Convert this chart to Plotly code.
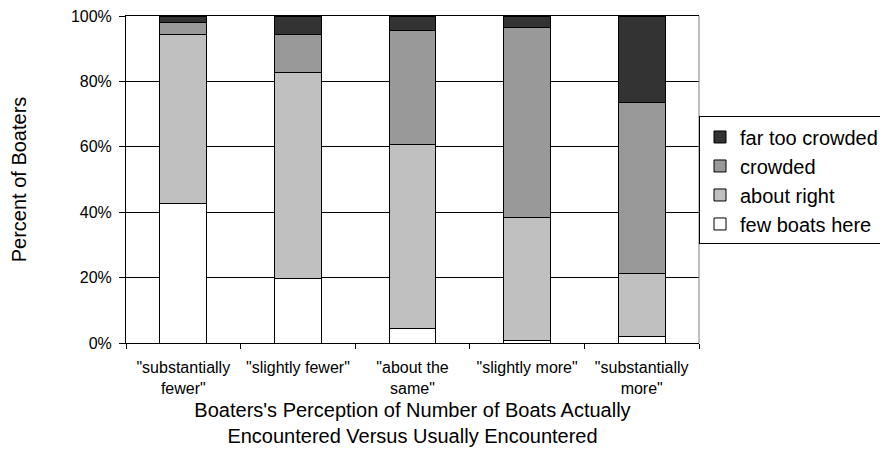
import plotly.graph_objects as go

categories = ['"substantially<br>fewer"', '"slightly fewer"', '"about the<br>same"',
              '"slightly more"', '"substantially<br>more"']
few_boats_here = [42.6, 19.6, 4.3, 0.7, 2.1]
about_right = [51.8, 63.0, 56.3, 37.8, 19.2]
crowded = [3.7, 11.8, 34.9, 57.9, 52.2]
far_too_crowded = [1.9, 5.6, 4.5, 3.6, 26.5]

series = [
    ("few boats here", few_boats_here, "#FFFFFF"),
    ("about right", about_right, "#C0C0C0"),
    ("crowded", crowded, "#999999"),
    ("far too crowded", far_too_crowded, "#333333"),
]

font_family = "Arial, Liberation Sans, sans-serif"

fig = go.Figure()
for name, vals, color in series:
    fig.add_trace(go.Bar(
        x=categories, y=[v / 100 for v in vals], name=name,
        marker=dict(color=color, line=dict(color="black", width=1)),
    ))

# the page body adds an 8px offset, margins compensate for it
fig.update_layout(
    width=888, height=462,
    barmode="stack", bargap=0.59,
    plot_bgcolor="white", paper_bgcolor="white",
    margin=dict(l=118, r=197, t=8, b=127),
    font=dict(family=font_family, color="black", size=16),
    showlegend=True,
    legend=dict(
        traceorder="reversed",
        x=1.0, xanchor="left", y=0.497, yanchor="middle",
        bordercolor="black", borderwidth=1,
        font=dict(size=20, family=font_family, color="black"),
        itemwidth=30,
    ),
    shapes=[dict(type="line", xref="paper", yref="paper", x0=1, x1=1, y0=0, y1=1,
                 line=dict(color="#808080", width=1))],
)

fig.update_xaxes(
    type="category", showgrid=False, tickson="boundaries",
    ticks="outside", ticklen=5, tickcolor="black", tickangle=0,
    showline=True, linecolor="black", linewidth=1, mirror=True,
    tickfont=dict(size=16), automargin=False, ticklabelstandoff=10,
    title=dict(text="Boaters's Perception of Number of Boats Actually<br>Encountered Versus Usually Encountered",
               font=dict(size=20), standoff=6),
)
fig.update_yaxes(
    range=[0, 1], dtick=0.2, tickformat=".0%",
    showgrid=True, gridcolor="black", gridwidth=1,
    ticks="outside", ticklen=6, tickcolor="black",
    showline=True, linecolor="black", linewidth=1,
    tickfont=dict(size=16), automargin=False, ticklabelstandoff=4,
    ticklabeloverflow="allow",
    title=dict(text="Percent of Boaters", font=dict(size=20), standoff=47),
    zeroline=False,
)

fig.write_html("out.html")
